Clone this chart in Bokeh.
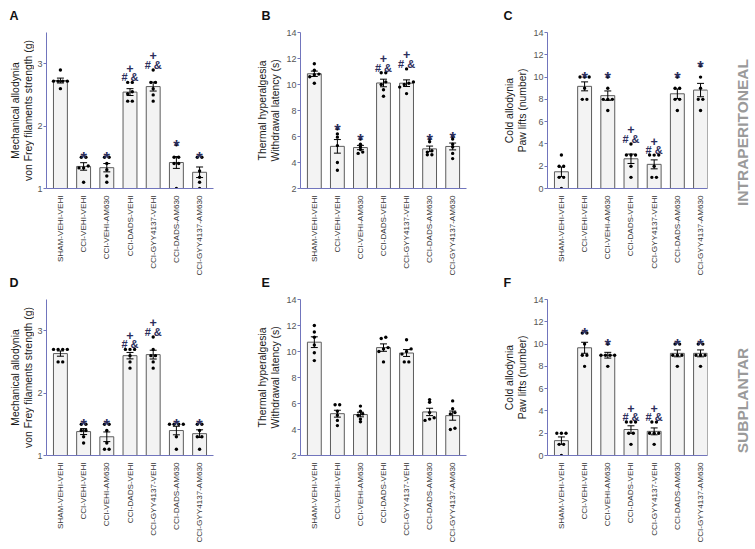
import numpy as np
from bokeh.plotting import figure
from bokeh.models import FixedTicker, Range1d
from bokeh.layouts import column, row
from bokeh.embed import file_html
from bokeh.resources import INLINE
from bokeh.core.properties import value

groups = ["SHAM-VEHI-VEHI", "CCI-VEHI-VEHI", "CCI-VEHI-AM630", "CCI-DADS-VEHI",
          "CCI-GYY4137-VEHI", "CCI-DADS-AM630", "CCI-GYY4137-AM630"]

# A: intraperitoneal, mechanical allodynia (g)
mech_ip = [[2.90, 2.72, 2.72, 2.72, 2.72, 2.60],
           [1.50, 1.50, 1.36, 1.33, 1.33, 1.10],
           [1.50, 1.50, 1.40, 1.30, 1.20, 1.10],
           [2.70, 2.70, 2.55, 2.52, 2.40, 2.40],
           [2.90, 2.70, 2.70, 2.60, 2.50, 2.40],
           [1.70, 1.50, 1.50, 1.40, 1.40, 1.00],
           [1.50, 1.50, 1.28, 1.18, 1.10, 1.00]]
# B: intraperitoneal, thermal hyperalgesia (s)
heat_ip = [[11.6, 11.1, 10.8, 10.75, 10.6, 10.1],
           [6.6, 6.2, 5.95, 5.3, 4.0, 3.4],
           [5.8, 5.4, 5.2, 5.0, 4.8, 4.7],
           [10.9, 10.9, 10.2, 10.0, 9.6, 9.1],
           [11.2, 10.2, 10.1, 10.0, 9.8, 9.3],
           [5.8, 5.6, 4.9, 4.8, 4.6, 4.6],
           [6.0, 5.8, 5.4, 5.2, 4.7, 4.3]]
# C: intraperitoneal, cold allodynia (paw lifts)
cold_ip = [[3, 2, 2, 1, 1, 0],
           [10, 10, 10, 9, 8, 8],
           [10, 9, 8, 8, 8, 7],
           [4, 3, 3, 3, 2, 1],
           [3, 3, 3, 2, 1, 1],
           [10, 9, 9, 8, 8, 7],
           [11, 10, 9, 8, 8, 7]]
# D: subplantar, mechanical allodynia (g)
mech_sp = [[2.70, 2.70, 2.70, 2.70, 2.50, 2.50],
           [1.50, 1.50, 1.40, 1.40, 1.30, 1.20],
           [1.50, 1.50, 1.40, 1.20, 1.10, 1.10],
           [2.70, 2.70, 2.70, 2.60, 2.50, 2.40],
           [2.90, 2.70, 2.60, 2.60, 2.50, 2.40],
           [1.50, 1.50, 1.50, 1.50, 1.30, 1.10],
           [1.50, 1.50, 1.40, 1.30, 1.30, 1.10]]
# E: subplantar, thermal hyperalgesia (s)
heat_sp = [[12.0, 11.5, 11.1, 10.5, 9.9, 9.3],
           [5.9, 5.9, 5.4, 5.1, 4.7, 4.3],
           [5.8, 5.4, 5.2, 5.1, 4.8, 4.6],
           [11.1, 11.0, 10.3, 10.2, 10.0, 9.2],
           [10.9, 10.2, 10.0, 9.8, 9.2, 9.2],
           [6.3, 6.1, 5.3, 4.9, 4.8, 4.7],
           [6.2, 5.6, 5.3, 5.2, 4.1, 4.0]]
# F: subplantar, cold allodynia (paw lifts)
cold_sp = [[2, 2, 2, 1, 1, 0],
           [11, 11, 10, 9, 9, 8],
           [10, 9, 9, 9, 9, 8],
           [3, 3, 3, 2, 2, 1],
           [3, 3, 2, 2, 2, 1],
           [10, 10, 9, 9, 9, 8],
           [10, 10, 9, 9, 9, 8]]

star_marks = ["", "*", "*", "", "", "*", "*"]
hash_marks = ["", "", "", "# &", "# &", "", ""]
plus_marks = ["", "", "", "+", "+", "", ""]
no_marks = [""] * 7

mech_ticks = [1, 2, 3]
heat_ticks = [2, 4, 6, 8, 10, 12, 14]
cold_ticks = [0, 2, 4, 6, 8, 10, 12, 14]

mech_lab = ["Mechanical allodynia", "von Frey filaments strength (g)"]
heat_lab = ["Thermal hyperalgesia", "Withdrawal latency (s)"]
cold_lab = ["Cold allodynia", "Paw lifts (number)"]

panel_letters_top = ["A", "B", "C"]
panel_letters_bottom = ["D", "E", "F"]
route_top = "INTRAPERITONEAL"
route_bottom = "SUBPLANTAR"

AXIS_BLUE = "#7175bd"
SYM = "#2c2e5c"
FONT = "Liberation Sans"

# layout (pixels)
W_A, W_B, W_C, W_S = 250, 247, 223, 34
YL_A, YL_B, YL_C = 34, 33, 33          # y-label strip widths
L_A, L_B, L_C = 12, 16, 16             # tick-label border of main plots
R_A, R_B, R_C = 37, 31, 13
TOP, FRAME_H, BOT = 6, 156, 6
MAIN_H = TOP + FRAME_H + BOT
XL1, XL2 = 81, 87                      # x-label strip heights
STRIP1, STRIP2 = 26, 18


def bare(width, height, xr, yr, left=0, right=0):
    p = figure(width=width, height=height, x_range=xr, y_range=yr,
               output_backend="svg", toolbar_location=None,
               x_axis_type=None, y_axis_type=None,
               min_border_left=left, min_border_right=right,
               min_border_top=0, min_border_bottom=0)
    p.outline_line_color = None
    p.grid.visible = False
    return p


def swarm(vals, ypx, dx):
    vals = np.asarray(vals, dtype=float)
    order = np.argsort(vals)
    offs = np.zeros(len(vals))
    clusters, cur = [], [order[0]]
    for i in order[1:]:
        if (vals[i] - vals[cur[-1]]) * ypx < 2.6:
            cur.append(i)
        else:
            clusters.append(cur)
            cur = [i]
    clusters.append(cur)
    for c in clusters:
        n = len(c)
        for k, idx in enumerate(c):
            offs[idx] = (k - (n - 1) / 2) * dx
    return offs


def panel(pts, ylo, yhi, ticks, xlo, xhi, ylabel, marks,
          ylw, line_x, width, left, right, xl_h):
    xr = Range1d(xlo, xhi)
    p = figure(width=width - ylw, height=MAIN_H, x_range=xr,
               y_range=Range1d(ylo, yhi), output_backend="svg", toolbar_location=None,
               min_border_left=left, min_border_right=right,
               min_border_top=TOP, min_border_bottom=BOT)
    p.outline_line_color = None
    p.grid.visible = False
    fw = width - ylw - left - right
    xpx = fw / (xhi - xlo)
    ypx = FRAME_H / (yhi - ylo)
    n = len(pts)
    xs = np.arange(n)
    means = np.array([np.mean(v) for v in pts])
    sems = np.array([np.std(v, ddof=1) / np.sqrt(len(v)) for v in pts])
    p.vbar(x=xs, top=means, bottom=ylo, width=0.6, fill_color="#f3f3f3",
           line_color="#5c5c5c", line_width=1)
    dxs, dys = [], []
    for i, v in enumerate(pts):
        offs = swarm(v, ypx, 4.6 / xpx)
        dxs.extend(i + offs)
        dys.extend(v)
    p.scatter(dxs, dys, size=3.4, color="black", line_width=0)
    cap = 3.5 / xpx
    p.segment(xs, means - sems, xs, means + sems, line_color="black", line_width=1)
    p.segment(xs - cap, means + sems, xs + cap, means + sems, line_color="black", line_width=1)
    p.segment(xs - cap, means - sems, xs + cap, means - sems, line_color="black", line_width=1)

    tops = np.array([max(v) for v in pts])
    s, h, pl = marks
    p.text(x=xs, y=tops, text=s, text_align="center", text_baseline="alphabetic",
           y_offset=1, text_font=value(FONT), text_font_style="bold",
           text_font_size="16.5px", text_color=SYM)
    p.text(x=xs, y=tops, text=h, text_align="center", text_baseline="alphabetic",
           y_offset=-5, text_font=value(FONT), text_font_style="bold",
           text_font_size="11px", text_color=SYM)
    p.text(x=xs, y=tops, text=pl, text_align="center", text_baseline="alphabetic",
           y_offset=-14, text_font=value(FONT), text_font_style="bold",
           text_font_size="12.5px", text_color=SYM)

    yax = p.yaxis[0]
    yax.ticker = FixedTicker(ticks=ticks)
    yax.axis_line_color = AXIS_BLUE
    yax.major_tick_line_color = AXIS_BLUE
    yax.major_tick_out = 3
    yax.major_tick_in = 0
    yax.minor_tick_line_color = None
    yax.major_label_text_font = FONT
    yax.major_label_text_font_size = "9px"
    yax.major_label_text_color = "#555555"
    yax.major_label_standoff = 1

    xax = p.xaxis[0]
    xax.ticker = FixedTicker(ticks=[])
    xax.major_tick_line_color = None
    xax.minor_tick_line_color = None
    xax.major_tick_out = 0
    xax.major_label_standoff = 0
    xax.major_label_text_font_size = "0px"
    xax.axis_line_color = AXIS_BLUE

    # category labels strip (shares the x range, so frames line up)
    xl = bare(width - ylw, xl_h, xr, Range1d(0, xl_h), left, right)
    xl.text(x=xs, y=[xl_h - 1] * n, text=groups, angle=np.pi / 2, text_align="right",
            text_baseline="middle", text_font=value(FONT), text_font_size="8.1px",
            text_color="#333333")

    # y-axis title strip
    row_h = MAIN_H + xl_h
    yl = bare(ylw, row_h, Range1d(0, ylw), Range1d(0, row_h))
    yl.text(x=line_x, y=[row_h - TOP - FRAME_H / 2] * 2, text=ylabel, angle=np.pi / 2,
            text_align="center", text_baseline="middle", text_font=value(FONT),
            text_font_size="10.4px", text_color="#1a1a1a")
    return row(yl, column(p, xl))


def letter_strip(letters, xs_px, height, base):
    total = W_A + W_B + W_C + W_S
    p = bare(total, height, Range1d(0, total), Range1d(0, height))
    p.text(x=xs_px, y=[base] * len(letters), text=letters, text_align="left",
           text_baseline="alphabetic", text_font=value(FONT), text_font_style="bold",
           text_font_size="12.5px", text_color="#111111")
    return p


def side_strip(label, height, cy):
    p = bare(W_S, height, Range1d(0, W_S), Range1d(0, height))
    p.text(x=[22], y=[cy], text=[label], angle=np.pi / 2, text_align="center",
           text_baseline="middle", text_font=value(FONT), text_font_style="bold",
           text_font_size="15.5px", text_color="#9a9a9a")
    return p


MARKS = (star_marks, hash_marks, plus_marks)
NOMARKS = (no_marks, no_marks, no_marks)

letter_x = [9, W_A + 11, W_A + W_B + 6]

pA = panel(mech_ip, 1, 3.5, mech_ticks, -0.6, 6.6, mech_lab, MARKS, YL_A, [15, 28], W_A, L_A, R_A, XL1)
pB = panel(heat_ip, 2, 14, heat_ticks, -0.6, 6.6, heat_lab, MARKS, YL_B, [12, 25], W_B, L_B, R_B, XL1)
pC = panel(cold_ip, 0, 14, cold_ticks, -0.6, 6.3, cold_lab, MARKS, YL_C, [12, 25], W_C, L_C, R_C, XL1)
pD = panel(mech_sp, 1, 3.5, mech_ticks, -0.6, 6.6, mech_lab, MARKS, YL_A, [15, 28], W_A, L_A, R_A, XL2)
pE = panel(heat_sp, 2, 14, heat_ticks, -0.6, 6.6, heat_lab, NOMARKS, YL_B, [12, 25], W_B, L_B, R_B, XL2)
pF = panel(cold_sp, 0, 14, cold_ticks, -0.6, 6.3, cold_lab, MARKS, YL_C, [12, 25], W_C, L_C, R_C, XL2)

s1 = letter_strip(panel_letters_top, letter_x, STRIP1, 11)
s2 = letter_strip(panel_letters_bottom, letter_x, STRIP2, 11)
r1 = side_strip(route_top, MAIN_H + XL1, MAIN_H + XL1 - 106)
r2 = side_strip(route_bottom, MAIN_H + XL2, MAIN_H + XL2 - 107)

layout = column(s1, row(pA, pB, pC, r1), s2, row(pD, pE, pF, r2))
open("out.html", "w").write(file_html(layout, INLINE))
